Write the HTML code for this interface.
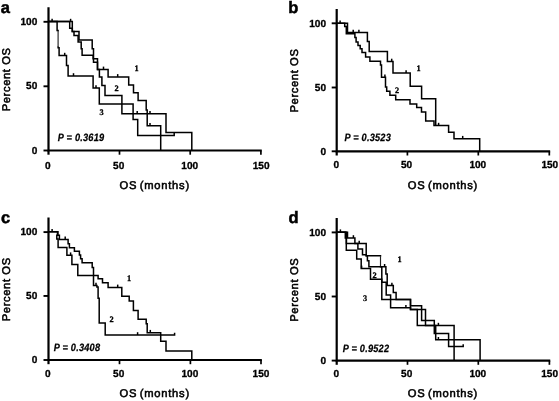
<!DOCTYPE html>
<html><head><meta charset="utf-8"><title>Figure</title>
<style>
html,body{margin:0;padding:0;background:#fff;}
svg{display:block}
.ax{fill:none;stroke:#000;stroke-width:2.2;stroke-linecap:butt;stroke-linejoin:miter}
.cv{fill:none;stroke:#000;stroke-width:1.5;stroke-linejoin:miter}
.cvt{fill:none;stroke:#222;stroke-width:1.15}
text{fill:#000;text-rendering:geometricPrecision}
.lab{stroke:#000;stroke-width:0.55px}
.pv{stroke:#000;stroke-width:0.25px}
.tl{stroke:#000;stroke-width:0.3px}
.pl{stroke:#000;stroke-width:0.5px}
.cl{stroke:#000;stroke-width:0.3px}
</style></head>
<body>
<svg width="559" height="401" viewBox="0 0 559 401">
<rect width="559" height="401" fill="#fff"/>
<path d="M48.5,7.3 V150.5 H261.75" class="ax"/>
<path d="M119.5,150.5 v4.2" class="ax" style="stroke-width:1.7"/>
<path d="M190.2,150.5 v4.2" class="ax" style="stroke-width:1.7"/>
<path d="M260.9,150.5 v4.2" class="ax" style="stroke-width:1.7"/>
<path d="M48.5,150.5 v4.2" class="ax"/>
<path d="M48.5,21.8 h-5.0" class="ax" style="stroke-width:1.9"/>
<path d="M48.5,86.3 h-5.0" class="ax" style="stroke-width:1.9"/>
<path d="M48.5,150.5 h-5.0" class="ax" style="stroke-width:1.9"/>
<path d="M58.1,31 V46.4" class="cvt"/>
<path d="M48.5,21.6 H57.1 V30.6 H58.1 V31.2 M58.1,46.2 V47.7 H59.1 V55.6 H66.5 V65.6 H68.1 V76 H93.1 V88.1 H99.3 V104 H133.1 V119.4 H137.7 V135.4 H174.2 V132.4" class="cv"/>
<path d="M48.5,21.6 H69.7 V28.3 H72.3 V31.6 H74 V35.5 H78.1 V41.9 H81.2 V48.7 H82.1 V55.2 H93.1 V58.7 H97.5 V69.4 H99.4 V76.9 H101.9 V85.6 H105 V95.4 H121.9 V113.7 H166 V132.4 H191.8 V150.5" class="cv"/>
<path d="M48.5,21.6 H72.3 V31.6 H79 V40 H92.2 V48.8 H93.5 V62.2 H97.5 V69.4 H108.1 V76.9 H128.7 V85 H133.5 V92.7 H138.1 V100.6 H146.2 V110 H147.2 V125.7 H160.7 V150.5" class="cv"/>
<path d="M52.1,21.6 v-2.8" class="cv"/>
<path d="M70.6,21.6 v-2.8" class="cv"/>
<path d="M64.7,55.6 v-2.8" class="cv"/>
<path d="M73.5,76 v-2.8" class="cv"/>
<path d="M96,88.1 v-2.8" class="cv"/>
<path d="M103.5,69.4 v-2.8" class="cv"/>
<path d="M117.7,76.9 v-2.8" class="cv"/>
<path d="M137.2,113.7 v-2.8" class="cv"/>
<path d="M150,113.7 v-2.8" class="cv"/>
<path d="M150,125.7 v-2.8" class="cv"/>
<path d="M336.7,9 V151.3 H550.15" class="ax"/>
<path d="M407.4,151.3 v4.2" class="ax" style="stroke-width:1.7"/>
<path d="M478.3,151.3 v4.2" class="ax" style="stroke-width:1.7"/>
<path d="M549.3,151.3 v4.2" class="ax" style="stroke-width:1.7"/>
<path d="M336.7,151.3 v4.2" class="ax"/>
<path d="M336.7,23.3 h-5.0" class="ax" style="stroke-width:1.9"/>
<path d="M336.7,87.5 h-5.0" class="ax" style="stroke-width:1.9"/>
<path d="M336.7,151.3 h-5.0" class="ax" style="stroke-width:1.9"/>
<path d="M337,23.2 H347.5 V32.5 H367.4 V41.5 H369.2 V51.5 H387.4 V61.5 H393 V73.1 H410.2 V86.2 H421.6 V98.7 H435.7 V125.6" class="cv"/>
<path d="M337,23.2 H344.7 V26.5 H346.3 V33.8 H354.9 V37.5 H356.1 V41.9 H358 V45.6 H360.2 V48.7 H362 V52.5 H365.6 V56.9 H369.9 V61.2 H380.5 V65 H381.5 V77.2 H385.5 V86.9 H386.7 V91.2 H389.9 V95.2 H395.7 V99.7 H410 V104 H416.7 V107.5 H421.5 V111.9 H425.7 V121 H434 V125.6 H448.6 V132.2 H454 V138.7 H479.7 V151.3" class="cv"/>
<path d="M340.1,23.2 v-2.8" class="cv"/>
<path d="M353.2,32.5 v-2.8" class="cv"/>
<path d="M358.9,32.5 v-2.8" class="cv"/>
<path d="M391.7,61.5 v-2.8" class="cv"/>
<path d="M406.1,73.1 v-2.8" class="cv"/>
<path d="M384.9,77.2 v-2.8" class="cv"/>
<path d="M438.6,125.6 v-2.8" class="cv"/>
<path d="M462.7,138.7 v-2.8" class="cv"/>
<path d="M48.5,217.5 V360 H261.85" class="ax"/>
<path d="M119.5,360 v4.2" class="ax" style="stroke-width:1.7"/>
<path d="M190.4,360 v4.2" class="ax" style="stroke-width:1.7"/>
<path d="M261.0,360 v4.2" class="ax" style="stroke-width:1.7"/>
<path d="M48.5,360 v4.2" class="ax"/>
<path d="M48.5,232.1 h-5.0" class="ax" style="stroke-width:1.9"/>
<path d="M48.5,295.95 h-5.0" class="ax" style="stroke-width:1.9"/>
<path d="M48.5,360 h-5.0" class="ax" style="stroke-width:1.9"/>
<path d="M48.5,231.8 H57.9 V235.3 H59.4 V239.4 H68.1 V243.7 H69.4 V247.7 H74.4 V251.2 H79.4 V255 H80.6 V258.7 H82.1 V262.7 H92.2 V267.5 H93.5 V285.6 H96.9 V287 H98.1 V298.3 H99.2 V323.1 H105.2 V335 H174.6 V332.7" class="cv"/>
<path d="M48.5,231.8 H57.5 V235.3 H56.8 V238.9 H58.1 V247.5 H66.9 V255.2 H71.9 V264.6 H77.8 V275.6 H98.1 V278.7 H102.5 V282.7 H108.1 V287.4 H121.8 V296.2 H129.2 V300.9 H133.4 V310.4 H138.1 V319.3 H146.2 V323.7 H147.2 V332.7 H160.7 V341.2 H166 V351.1 H191.8 V360" class="cv"/>
<path d="M52.1,231.8 v-2.8" class="cv"/>
<path d="M65.2,239.4 v-2.8" class="cv"/>
<path d="M70.6,255.2 v-2.8" class="cv"/>
<path d="M96,285.6 v-2.8" class="cv"/>
<path d="M117.7,287.4 v-2.8" class="cv"/>
<path d="M137.6,335 v-2.8" class="cv"/>
<path d="M150.3,332.7 v-2.8" class="cv"/>
<path d="M336.7,218.1 V360.6 H550.25" class="ax"/>
<path d="M407.5,360.6 v4.2" class="ax" style="stroke-width:1.7"/>
<path d="M478.3,360.6 v4.2" class="ax" style="stroke-width:1.7"/>
<path d="M549.4,360.6 v4.2" class="ax" style="stroke-width:1.7"/>
<path d="M336.7,360.6 v4.2" class="ax"/>
<path d="M336.7,232.4 h-5.0" class="ax" style="stroke-width:1.9"/>
<path d="M336.7,296.5 h-5.0" class="ax" style="stroke-width:1.9"/>
<path d="M336.7,360.6 h-5.0" class="ax" style="stroke-width:1.9"/>
<path d="M380.5,256.2 V266.4" class="cvt"/>
<path d="M337,232.2 H347.5 V238 H354.9 V243.6 H366.2 V255.8 H380.5 V256.4 M380.5,266.2 V266.8 H385.9 V273.9 H387.2 V285.5 H393.3 V292.5 H396.1 V299.4 H410.5 V305.8 H421.6 V320.4 H434.3 V333.6 H448.6 V346.5 H463.2 V344.3" class="cv"/>
<path d="M337,232.2 H346.4 V243.6 H357.9 V249 H362.5 V254.8 H366.2 V255.8 H367.4 V260.7 H368.9 V266.8 H381.8 V282.2 H386.2 V295 H390.6 V307.8 H410.5 V309.6 H417.3 V325.6 H454.1 V360.5" class="cv"/>
<path d="M337,232.2 H345.3 V238 H346.3 V250.3 H356.7 V259.1 H361.2 V268.4 H370.5 V279.3 H381.8 V299.4 H410.5 V309.6 H425.5 V325.6 H435.7 V339.8 H480.1 V360.5" class="cv"/>
<path d="M340.4,232.2 v-2.8" class="cv"/>
<path d="M353.4,238 v-2.8" class="cv"/>
<path d="M359.2,243.6 v-2.8" class="cv"/>
<path d="M361.6,268.4 v-2.8" class="cv"/>
<path d="M384.6,266.8 v-2.8" class="cv"/>
<path d="M391.9,285.5 v-2.8" class="cv"/>
<path d="M405.9,307.8 v-2.8" class="cv"/>
<path d="M438.4,325.6 v-2.8" class="cv"/>
<path d="M438.4,339.8 v-2.8" class="cv"/>
<text x="0.7" y="13.3" font-size="16.5" font-weight="bold" text-anchor="start" font-family='"Liberation Sans", Arial, sans-serif' font-style="normal" class="pl">a</text>
<text x="288.2" y="13.4" font-size="16.5" font-weight="bold" text-anchor="start" font-family='"Liberation Sans", Arial, sans-serif' font-style="normal" class="pl">b</text>
<text x="0.9" y="223.1" font-size="16.5" font-weight="bold" text-anchor="start" font-family='"Liberation Sans", Arial, sans-serif' font-style="normal" class="pl">c</text>
<text x="288.4" y="222.9" font-size="16.5" font-weight="bold" text-anchor="start" font-family='"Liberation Sans", Arial, sans-serif' font-style="normal" class="pl">d</text>
<text transform="translate(37.3 24.874000000000002) scale(0.99 1)" font-size="10.2" font-weight="bold" text-anchor="end" font-family='"Liberation Sans", Arial, sans-serif' font-style="normal" class="tl">100</text>
<text transform="translate(37.3 89.374) scale(0.99 1)" font-size="10.2" font-weight="bold" text-anchor="end" font-family='"Liberation Sans", Arial, sans-serif' font-style="normal" class="tl">50</text>
<text transform="translate(37.3 153.574) scale(0.99 1)" font-size="10.2" font-weight="bold" text-anchor="end" font-family='"Liberation Sans", Arial, sans-serif' font-style="normal" class="tl">0</text>
<text transform="translate(47.7 168.774) scale(0.99 1)" font-size="10.2" font-weight="bold" text-anchor="middle" font-family='"Liberation Sans", Arial, sans-serif' font-style="normal" class="tl">0</text>
<text transform="translate(118.7 168.774) scale(0.99 1)" font-size="10.2" font-weight="bold" text-anchor="middle" font-family='"Liberation Sans", Arial, sans-serif' font-style="normal" class="tl">50</text>
<text transform="translate(189.7 168.774) scale(0.99 1)" font-size="10.2" font-weight="bold" text-anchor="middle" font-family='"Liberation Sans", Arial, sans-serif' font-style="normal" class="tl">100</text>
<text transform="translate(261.09999999999997 168.774) scale(0.99 1)" font-size="10.2" font-weight="bold" text-anchor="middle" font-family='"Liberation Sans", Arial, sans-serif' font-style="normal" class="tl">150</text>
<text x="119.6" y="189.0" font-size="11.2" font-weight="normal" text-anchor="start" font-family='"Liberation Sans", Arial, sans-serif' font-style="normal" class="lab" letter-spacing="0.74" word-spacing="-1.3">OS (months)</text>
<text x="9.600000000000001" y="79.35000000000001" font-size="11.2" font-weight="normal" text-anchor="middle" font-family='"Liberation Sans", Arial, sans-serif' font-style="normal" class="lab" letter-spacing="0.62" transform="rotate(-90 9.600000000000001 79.35000000000001)">Percent OS</text>
<text transform="translate(326.0 26.774) scale(0.99 1)" font-size="10.2" font-weight="bold" text-anchor="end" font-family='"Liberation Sans", Arial, sans-serif' font-style="normal" class="tl">100</text>
<text transform="translate(326.0 90.974) scale(0.99 1)" font-size="10.2" font-weight="bold" text-anchor="end" font-family='"Liberation Sans", Arial, sans-serif' font-style="normal" class="tl">50</text>
<text transform="translate(326.0 154.774) scale(0.99 1)" font-size="10.2" font-weight="bold" text-anchor="end" font-family='"Liberation Sans", Arial, sans-serif' font-style="normal" class="tl">0</text>
<text transform="translate(336.2 168.174) scale(0.99 1)" font-size="10.2" font-weight="bold" text-anchor="middle" font-family='"Liberation Sans", Arial, sans-serif' font-style="normal" class="tl">0</text>
<text transform="translate(406.59999999999997 168.174) scale(0.99 1)" font-size="10.2" font-weight="bold" text-anchor="middle" font-family='"Liberation Sans", Arial, sans-serif' font-style="normal" class="tl">50</text>
<text transform="translate(477.8 168.174) scale(0.99 1)" font-size="10.2" font-weight="bold" text-anchor="middle" font-family='"Liberation Sans", Arial, sans-serif' font-style="normal" class="tl">100</text>
<text transform="translate(549.8 168.174) scale(0.99 1)" font-size="10.2" font-weight="bold" text-anchor="middle" font-family='"Liberation Sans", Arial, sans-serif' font-style="normal" class="tl">150</text>
<text x="407.79999999999995" y="188.7" font-size="11.2" font-weight="normal" text-anchor="start" font-family='"Liberation Sans", Arial, sans-serif' font-style="normal" class="lab" letter-spacing="0.74" word-spacing="-1.3">OS (months)</text>
<text x="297.8" y="80.50000000000001" font-size="11.2" font-weight="normal" text-anchor="middle" font-family='"Liberation Sans", Arial, sans-serif' font-style="normal" class="lab" letter-spacing="0.62" transform="rotate(-90 297.8 80.50000000000001)">Percent OS</text>
<text transform="translate(37.3 235.274) scale(0.99 1)" font-size="10.2" font-weight="bold" text-anchor="end" font-family='"Liberation Sans", Arial, sans-serif' font-style="normal" class="tl">100</text>
<text transform="translate(37.3 299.12399999999997) scale(0.99 1)" font-size="10.2" font-weight="bold" text-anchor="end" font-family='"Liberation Sans", Arial, sans-serif' font-style="normal" class="tl">50</text>
<text transform="translate(37.3 363.174) scale(0.99 1)" font-size="10.2" font-weight="bold" text-anchor="end" font-family='"Liberation Sans", Arial, sans-serif' font-style="normal" class="tl">0</text>
<text transform="translate(47.7 377.374) scale(0.99 1)" font-size="10.2" font-weight="bold" text-anchor="middle" font-family='"Liberation Sans", Arial, sans-serif' font-style="normal" class="tl">0</text>
<text transform="translate(118.7 377.374) scale(0.99 1)" font-size="10.2" font-weight="bold" text-anchor="middle" font-family='"Liberation Sans", Arial, sans-serif' font-style="normal" class="tl">50</text>
<text transform="translate(189.9 377.374) scale(0.99 1)" font-size="10.2" font-weight="bold" text-anchor="middle" font-family='"Liberation Sans", Arial, sans-serif' font-style="normal" class="tl">100</text>
<text transform="translate(261.0 377.374) scale(0.99 1)" font-size="10.2" font-weight="bold" text-anchor="middle" font-family='"Liberation Sans", Arial, sans-serif' font-style="normal" class="tl">150</text>
<text x="119.6" y="396.7" font-size="11.2" font-weight="normal" text-anchor="start" font-family='"Liberation Sans", Arial, sans-serif' font-style="normal" class="lab" letter-spacing="0.74" word-spacing="-1.3">OS (months)</text>
<text x="9.600000000000001" y="289.25" font-size="11.2" font-weight="normal" text-anchor="middle" font-family='"Liberation Sans", Arial, sans-serif' font-style="normal" class="lab" letter-spacing="0.62" transform="rotate(-90 9.600000000000001 289.25)">Percent OS</text>
<text transform="translate(326.0 236.174) scale(0.99 1)" font-size="10.2" font-weight="bold" text-anchor="end" font-family='"Liberation Sans", Arial, sans-serif' font-style="normal" class="tl">100</text>
<text transform="translate(326.0 300.274) scale(0.99 1)" font-size="10.2" font-weight="bold" text-anchor="end" font-family='"Liberation Sans", Arial, sans-serif' font-style="normal" class="tl">50</text>
<text transform="translate(326.0 364.374) scale(0.99 1)" font-size="10.2" font-weight="bold" text-anchor="end" font-family='"Liberation Sans", Arial, sans-serif' font-style="normal" class="tl">0</text>
<text transform="translate(336.2 377.474) scale(0.99 1)" font-size="10.2" font-weight="bold" text-anchor="middle" font-family='"Liberation Sans", Arial, sans-serif' font-style="normal" class="tl">0</text>
<text transform="translate(406.7 377.474) scale(0.99 1)" font-size="10.2" font-weight="bold" text-anchor="middle" font-family='"Liberation Sans", Arial, sans-serif' font-style="normal" class="tl">50</text>
<text transform="translate(477.8 377.474) scale(0.99 1)" font-size="10.2" font-weight="bold" text-anchor="middle" font-family='"Liberation Sans", Arial, sans-serif' font-style="normal" class="tl">100</text>
<text transform="translate(549.6 377.474) scale(0.99 1)" font-size="10.2" font-weight="bold" text-anchor="middle" font-family='"Liberation Sans", Arial, sans-serif' font-style="normal" class="tl">150</text>
<text x="407.79999999999995" y="397.2" font-size="11.2" font-weight="normal" text-anchor="start" font-family='"Liberation Sans", Arial, sans-serif' font-style="normal" class="lab" letter-spacing="0.74" word-spacing="-1.3">OS (months)</text>
<text x="297.8" y="289.7" font-size="11.2" font-weight="normal" text-anchor="middle" font-family='"Liberation Sans", Arial, sans-serif' font-style="normal" class="lab" letter-spacing="0.62" transform="rotate(-90 297.8 289.7)">Percent OS</text>
<text transform="translate(57.8 140.7) scale(0.86 1)" font-size="10.7" font-weight="bold" text-anchor="start" font-family='"Liberation Sans", Arial, sans-serif' font-style="italic" class="pv" letter-spacing="0.25">P = 0.3619</text>
<text transform="translate(344.5 140.8) scale(0.86 1)" font-size="10.7" font-weight="bold" text-anchor="start" font-family='"Liberation Sans", Arial, sans-serif' font-style="italic" class="pv" letter-spacing="0.25">P = 0.3523</text>
<text transform="translate(53.7 350.9) scale(0.86 1)" font-size="10.7" font-weight="bold" text-anchor="start" font-family='"Liberation Sans", Arial, sans-serif' font-style="italic" class="pv" letter-spacing="0.25">P = 0.3408</text>
<text transform="translate(342.7 352.1) scale(0.86 1)" font-size="10.7" font-weight="bold" text-anchor="start" font-family='"Liberation Sans", Arial, sans-serif' font-style="italic" class="pv" letter-spacing="0.25">P = 0.9522</text>
<text x="136.5" y="70.922" font-size="8.3" font-weight="bold" text-anchor="middle" font-family='"Liberation Serif", "Times New Roman", serif' font-style="normal" class="cl">1</text>
<text x="116.5" y="90.522" font-size="8.3" font-weight="bold" text-anchor="middle" font-family='"Liberation Serif", "Times New Roman", serif' font-style="normal" class="cl">2</text>
<text x="101.5" y="115.322" font-size="8.3" font-weight="bold" text-anchor="middle" font-family='"Liberation Serif", "Times New Roman", serif' font-style="normal" class="cl">3</text>
<text x="418.6" y="70.922" font-size="8.3" font-weight="bold" text-anchor="middle" font-family='"Liberation Serif", "Times New Roman", serif' font-style="normal" class="cl">1</text>
<text x="397" y="93.22200000000001" font-size="8.3" font-weight="bold" text-anchor="middle" font-family='"Liberation Serif", "Times New Roman", serif' font-style="normal" class="cl">2</text>
<text x="129" y="280.522" font-size="8.3" font-weight="bold" text-anchor="middle" font-family='"Liberation Serif", "Times New Roman", serif' font-style="normal" class="cl">1</text>
<text x="111.5" y="321.822" font-size="8.3" font-weight="bold" text-anchor="middle" font-family='"Liberation Serif", "Times New Roman", serif' font-style="normal" class="cl">2</text>
<text x="399.5" y="262.322" font-size="8.3" font-weight="bold" text-anchor="middle" font-family='"Liberation Serif", "Times New Roman", serif' font-style="normal" class="cl">1</text>
<text x="374.5" y="277.822" font-size="8.3" font-weight="bold" text-anchor="middle" font-family='"Liberation Serif", "Times New Roman", serif' font-style="normal" class="cl">2</text>
<text x="365" y="301.422" font-size="8.3" font-weight="bold" text-anchor="middle" font-family='"Liberation Serif", "Times New Roman", serif' font-style="normal" class="cl">3</text>
</svg>
</body></html>
